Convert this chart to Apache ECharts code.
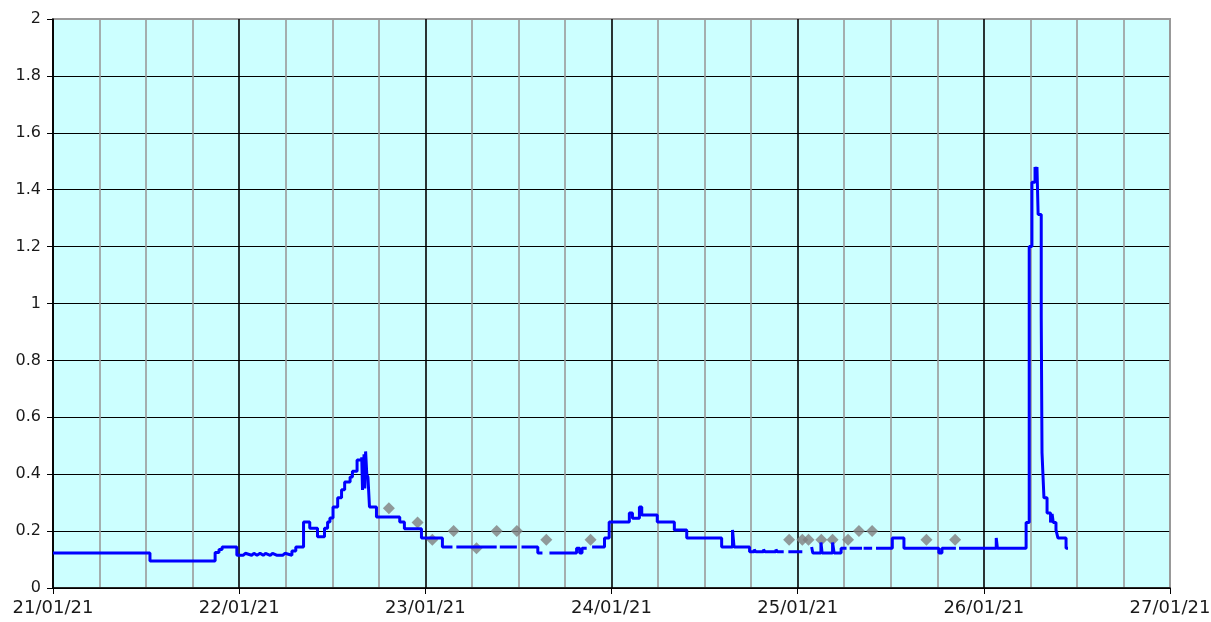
<!DOCTYPE html>
<html>
<head>
<meta charset="utf-8">
<script src="https://cdn.jsdelivr.net/npm/echarts@6/dist/echarts.min.js"></script>
<style>
html,body{margin:0;padding:0;background:#fff;}
#chart{width:1211px;height:622px;}
</style>
</head>
<body>
<div id="chart"></div>
<script>
// X values are hours since 21/01/21 00:00
const dayLabels = ['21/01/21','22/01/21','23/01/21','24/01/21','25/01/21','26/01/21','27/01/21'];

// Blue stepped series: each point starts a level ('-' = gap in the record)
const lineHours = [
  0, 12.5, 20.9, 21.4, 21.8, 23.7, 24.5, 24.8, 25.6, 25.9, 26.3, 26.7, 27.1, 27.4, 28.0, 28.3, 28.9, 29.1, 29.6, 29.9,
  30.8, 31.3, 32.3, 33.1, 34.1, 35.0, 35.4, 35.7, 36.1, 36.7, 37.2, 37.6, 38.3, 38.6, 39.2, 39.8, 39.9, 40.1, 40.2, 40.3,
  40.45, 40.6, 40.8, 41.7, 44.7, 45.3, 47.5, 50.2, 51.5, 51.5, 52.0, 57.2, 57.2, 57.6, 59.8, 59.8, 60.4, 62.5, 63.1, 63.1,
  64.0, 67.5, 67.9, 68.2, 68.8, 68.8, 69.5, 71.1, 71.7, 74.3, 74.7, 75.6, 75.9, 77.9, 80.1, 81.7, 86.2, 87.6, 87.8, 89.8,
  90.4, 90.6, 91.6, 91.8, 93.2, 93.4, 94.2, 94.2, 94.8, 96.6, 96.6, 97.8, 97.95, 99.0, 99.15, 100.5, 100.7, 101.6, 102.3, 102.3,
  102.7, 104.3, 104.3, 104.5, 105.6, 105.6, 106.1, 108.2, 109.7, 114.2, 114.6, 116.4, 116.4, 116.8, 121.6, 121.75, 125.45, 125.85, 126.2, 126.6,
  126.75, 126.85, 127.0, 127.4, 127.5, 127.75, 128.15, 128.6, 128.8, 128.95, 129.3, 129.55, 130.6, 130.85
];
const lineValues = [
  0.123, 0.095, 0.125, 0.135, 0.144, 0.115, 0.122, 0.115, 0.122, 0.115, 0.122, 0.115, 0.122, 0.115, 0.122, 0.115, 0.122, 0.115, 0.122, 0.115,
  0.13, 0.144, 0.232, 0.21, 0.18, 0.21, 0.232, 0.246, 0.285, 0.317, 0.345, 0.373, 0.39, 0.41, 0.45, 0.46, 0.345, 0.47, 0.35, 0.48,
  0.4, 0.39, 0.285, 0.25, 0.232, 0.208, 0.176, 0.144, 0.144, '-', 0.144, 0.144, '-', 0.144, 0.144, '-', 0.144, 0.123, 0.123, '-',
  0.123, 0.14, 0.123, 0.14, 0.14, '-', 0.144, 0.176, 0.232, 0.264, 0.245, 0.285, 0.257, 0.232, 0.204, 0.176, 0.144, 0.204, 0.144, 0.127,
  0.135, 0.127, 0.135, 0.127, 0.135, 0.127, 0.127, '-', 0.127, 0.127, '-', 0.144, 0.123, 0.16, 0.123, 0.16, 0.123, 0.14, 0.14, '-',
  0.14, 0.14, '-', 0.14, 0.14, '-', 0.14, 0.176, 0.14, 0.123, 0.14, 0.14, '-', 0.14, 0.176, 0.14, 0.23, 1.2, 1.426, 1.48,
  1.44, 1.48, 1.313, 0.954, 0.475, 0.317, 0.264, 0.23, 0.26, 0.23, 0.204, 0.176, 0.14, 0.14
];

// Grey diamond readings
const pointHours = [43.3, 47.0, 48.9, 51.65, 54.6, 57.2, 59.8, 63.6, 69.3, 94.9, 96.6, 97.4, 99.05, 100.5, 102.5, 103.9, 105.6, 112.6, 116.3];
const pointValues = [0.28, 0.23, 0.17, 0.2, 0.14, 0.2, 0.2, 0.17, 0.17, 0.17, 0.17, 0.17, 0.17, 0.17, 0.17, 0.2, 0.2, 0.17, 0.17];

const lineData = lineHours.map((h, i) => [h, lineValues[i]]);
const pointData = pointHours.map((h, i) => [h, pointValues[i]]);

const FONT = 'DejaVu Sans';
const MAJ = '#000000', MIN = '#9a9a9a';
// vertical grid every 6 h: black at midnight, grey otherwise; right border grey
const vColors = [];
for (let i = 0; i <= 24; i++) vColors.push(i === 24 ? MIN : (i % 4 === 0 ? MAJ : MIN));

const chart = echarts.init(document.getElementById('chart'), null, {renderer: 'canvas'});
chart.setOption({
  animation: false,
  backgroundColor: '#ffffff',
  grid: {
    left: 53, right: 41, top: 19, bottom: 34,
    outerBoundsMode: 'none', containLabel: false,
    show: true, backgroundColor: '#ccffff', borderColor: MIN, borderWidth: 2
  },
  xAxis: [
    {
      type: 'value', min: 0, max: 144, interval: 6,
      axisLine: {show: false}, axisTick: {show: false}, axisLabel: {show: false},
      splitLine: {show: true, lineStyle: {color: vColors, width: 1.6}}
    },
    {
      type: 'value', min: 0, max: 144, interval: 24, position: 'bottom',
      axisLine: {show: true, onZero: false, lineStyle: {color: '#000', width: 1.5}},
      axisTick: {show: true, length: 6, lineStyle: {color: '#000'}},
      axisLabel: {
        margin: 11, color: '#1a1a1a', fontFamily: FONT, fontSize: 18,
        formatter: v => dayLabels[Math.round(v / 24)]
      },
      splitLine: {show: false}
    }
  ],
  yAxis: {
    type: 'value', min: 0, max: 2, interval: 0.2,
    axisLine: {show: true, onZero: false, lineStyle: {color: '#000', width: 1.5}},
    axisTick: {show: true, length: 6, lineStyle: {color: '#000'}},
    axisLabel: {margin: 12, color: '#1a1a1a', fontFamily: FONT, fontSize: 16},
    splitLine: {show: true, lineStyle: {color: [MAJ,MAJ,MAJ,MAJ,MAJ,MAJ,MAJ,MAJ,MAJ,MAJ,MIN], width: 1.2}}
  },
  series: [
    {
      type: 'scatter', xAxisIndex: 0, data: pointData, symbol: 'diamond', symbolSize: 12,
      itemStyle: {color: '#808080'}, z: 2
    },
    {
      type: 'line', xAxisIndex: 0, data: lineData, step: 'end', showSymbol: false, connectNulls: false,
      lineStyle: {color: '#0000ff', width: 3}, z: 3
    }
  ]
});
</script>
</body>
</html>
